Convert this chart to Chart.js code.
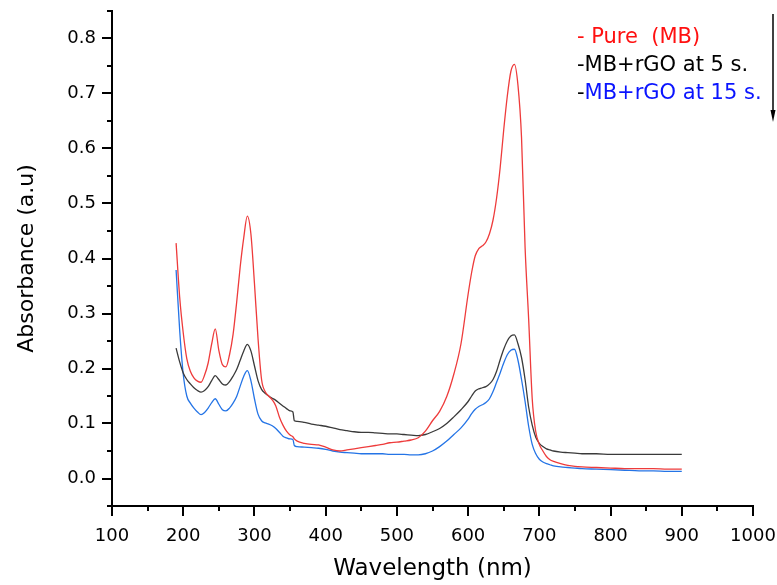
<!DOCTYPE html>
<html>
<head>
<meta charset="utf-8">
<script src="https://cdn.jsdelivr.net/npm/chart.js@4/dist/chart.umd.min.js"></script>
<style>
  html, body { margin: 0; padding: 0; background: #fff; }
</style>
</head>
<body>
<canvas id="myChart" width="777" height="585"></canvas>
<script>
// wavelength grid (nm)
const wavelengths = [
  190, 195, 200, 205, 210, 215, 220, 225, 230, 235, 240, 245, 250, 255, 260, 265, 270,
  275, 280, 285, 290, 295, 300, 305, 310, 315, 320, 325, 330, 335, 340, 345, 350,
  354, 356,
  360, 370, 380, 390, 400, 410, 420, 430, 440, 450, 460, 470, 480, 490, 500,
  510, 520, 530, 540, 550, 560, 570, 580, 590, 600,
  605, 610, 615, 620, 625, 630, 635, 640, 645, 650, 655, 660, 665, 670, 675,
  680, 685, 690, 695, 700, 705, 710, 715, 720,
  730, 740, 750, 760,
  780, 800, 820, 840, 860, 880, 900
];

const pureMB = [
  0.428, 0.33, 0.265, 0.218, 0.195, 0.183, 0.177, 0.175, 0.188, 0.21, 0.245, 0.272, 0.233, 0.207, 0.203, 0.225, 0.262,
  0.32, 0.385, 0.438, 0.477, 0.445, 0.355, 0.255, 0.18, 0.158, 0.15, 0.143, 0.132, 0.112, 0.097, 0.086, 0.079,
  0.076, 0.072,
  0.068, 0.064, 0.062, 0.061, 0.057, 0.052, 0.05, 0.052, 0.054, 0.056, 0.058, 0.06, 0.062, 0.065, 0.066,
  0.068, 0.07, 0.074, 0.086, 0.105, 0.122, 0.149, 0.19, 0.245, 0.335,
  0.375, 0.405, 0.418, 0.423, 0.43, 0.445, 0.47, 0.51, 0.565, 0.634, 0.695, 0.74, 0.753, 0.715, 0.62,
  0.42, 0.29, 0.145, 0.085, 0.062, 0.05, 0.04, 0.034, 0.031,
  0.027, 0.024, 0.022, 0.021,
  0.02, 0.019, 0.018, 0.018, 0.018, 0.017, 0.017
];

const rgo5s = [
  0.237, 0.212, 0.192, 0.18, 0.172, 0.165, 0.16, 0.157, 0.16, 0.167, 0.178, 0.187, 0.18, 0.172, 0.17, 0.176, 0.186,
  0.198, 0.215, 0.232, 0.244, 0.232, 0.205, 0.178, 0.162, 0.155, 0.15, 0.146, 0.142, 0.137, 0.132, 0.127, 0.123,
  0.121, 0.105,
  0.104, 0.102, 0.099, 0.097, 0.095, 0.092, 0.089, 0.087, 0.085, 0.084, 0.084, 0.083, 0.082, 0.081, 0.081,
  0.08, 0.079, 0.078, 0.08, 0.085, 0.091, 0.1, 0.112, 0.125, 0.14,
  0.15, 0.159, 0.163, 0.165, 0.167, 0.172, 0.18, 0.195, 0.216, 0.235, 0.25, 0.259, 0.261, 0.245, 0.22,
  0.18, 0.13, 0.097, 0.075, 0.064, 0.058, 0.054, 0.052, 0.05,
  0.048, 0.047, 0.046, 0.045,
  0.045, 0.044, 0.044, 0.044, 0.044, 0.044, 0.044
];

const rgo15s = [
  0.379, 0.27, 0.19, 0.15, 0.137, 0.128, 0.121, 0.116, 0.12, 0.128, 0.138, 0.145, 0.135, 0.125, 0.123, 0.128, 0.137,
  0.149, 0.168, 0.186, 0.196, 0.178, 0.145, 0.117, 0.105, 0.101, 0.099, 0.096, 0.091, 0.084, 0.077, 0.074, 0.072,
  0.071, 0.06,
  0.058, 0.057, 0.056, 0.055, 0.053, 0.05, 0.048, 0.047, 0.046, 0.045, 0.045, 0.045, 0.045, 0.044, 0.044,
  0.044, 0.043, 0.043, 0.045, 0.05, 0.058, 0.068, 0.08, 0.092, 0.108,
  0.118, 0.126, 0.131, 0.134, 0.138, 0.145, 0.158, 0.175, 0.192, 0.21, 0.225, 0.233, 0.235, 0.215, 0.18,
  0.14, 0.095, 0.062, 0.045, 0.035, 0.03, 0.027, 0.025, 0.023,
  0.021, 0.02, 0.019, 0.018,
  0.017, 0.016, 0.015, 0.014, 0.014, 0.013, 0.013
];

// labelled tick values on each axis
const xTickValues = [100, 200, 300, 400, 500, 600, 700, 800, 900, 1000];
const yTickValues = [0, 0.1, 0.2, 0.3, 0.4, 0.5, 0.6, 0.7, 0.8];

const seriesNames = ['- Pure  (MB)', '-MB+rGO at 5 s.', '-MB+rGO at 15 s.'];
const lineColors = ['#ee3b3b', '#3a3a3a', '#2474e6'];
const legendColors = ['#ff1010', '#000000', '#0a14ff'];

const FONT = "'DejaVu Sans', sans-serif";

const toPoints = (ys) => wavelengths.map((w, i) => ({ x: w, y: ys[i] }));

// major + minor tick marks, drawn outward from both axes
const axisTicks = {
  id: 'axisTicks',
  afterDraw(chart) {
    const { ctx, chartArea } = chart;
    const x = chart.scales.x;
    const y = chart.scales.y;
    ctx.save();
    ctx.strokeStyle = '#000';
    ctx.lineWidth = 2;
    for (let v = 100; v <= 1000; v += 50) {
      const px = Math.round(x.getPixelForValue(v));
      const len = v % 100 === 0 ? 10 : 5;
      ctx.beginPath();
      ctx.moveTo(px, chartArea.bottom);
      ctx.lineTo(px, chartArea.bottom + len);
      ctx.stroke();
    }
    for (let i = -1; i <= 17; i++) {
      const py = Math.round(y.getPixelForValue(i * 0.05));
      const len = i % 2 === 0 ? 10 : 5;
      ctx.beginPath();
      ctx.moveTo(chartArea.left, py);
      ctx.lineTo(chartArea.left - len, py);
      ctx.stroke();
    }
    ctx.restore();
  }
};

// text legend in the top right corner plus the downward arrow
const noteLegend = {
  id: 'noteLegend',
  afterDraw(chart) {
    const { ctx } = chart;
    ctx.save();
    ctx.font = '21px ' + FONT;
    ctx.textBaseline = 'alphabetic';
    ctx.textAlign = 'left';
    const x0 = 577;
    const rows = [43, 71, 99];
    ctx.fillStyle = legendColors[0];
    ctx.fillText(seriesNames[0], x0, rows[0]);
    ctx.fillStyle = legendColors[1];
    ctx.fillText(seriesNames[1], x0, rows[1]);
    ctx.fillStyle = '#000';
    ctx.fillText('-', x0, rows[2]);
    const dash = ctx.measureText('-').width;
    ctx.fillStyle = legendColors[2];
    ctx.fillText(seriesNames[2].slice(1), x0 + dash, rows[2]);

    // arrow
    ctx.strokeStyle = '#000';
    ctx.fillStyle = '#000';
    ctx.lineWidth = 1.5;
    ctx.beginPath();
    ctx.moveTo(773, 14);
    ctx.lineTo(773, 112);
    ctx.stroke();
    ctx.beginPath();
    ctx.moveTo(770.5, 110);
    ctx.lineTo(775.5, 110);
    ctx.lineTo(773, 122);
    ctx.closePath();
    ctx.fill();
    ctx.restore();
  }
};

const ctx = document.getElementById('myChart');

new Chart(ctx, {
  type: 'line',
  data: {
    datasets: [
      { label: seriesNames[0], data: toPoints(pureMB), borderColor: lineColors[0] },
      { label: seriesNames[1], data: toPoints(rgo5s), borderColor: lineColors[1] },
      { label: seriesNames[2], data: toPoints(rgo15s), borderColor: lineColors[2] }
    ]
  },
  options: {
    responsive: false,
    animation: false,
    events: [],
    layout: { padding: { left: 0, top: 11, right: 24, bottom: 0 } },
    elements: {
      point: { radius: 0 },
      line: { borderWidth: 1.3, cubicInterpolationMode: 'monotone', fill: false }
    },
    plugins: {
      legend: { display: false },
      tooltip: { enabled: false }
    },
    scales: {
      x: {
        type: 'linear',
        min: 100,
        max: 1000,
        grid: { display: true, drawOnChartArea: false, drawTicks: false },
        border: { display: true, color: '#000', width: 2 },
        ticks: {
          padding: 20,
          maxRotation: 0,
          autoSkip: false,
          color: '#000',
          font: { family: FONT, size: 18 },
          callback: (v) => String(v)
        },
        afterBuildTicks(scale) { scale.ticks = xTickValues.map(v => ({ value: v })); },
        title: {
          display: true,
          text: 'Wavelength (nm)',
          color: '#000',
          font: { family: FONT, size: 23 },
          padding: { top: 0, bottom: 2 }
        },
        afterFit(scale) {
          scale.height = 79;
          scale.paddingLeft = 0;
          scale.paddingRight = 0;
        }
      },
      y: {
        min: -0.05,
        max: 0.85,
        grid: { display: true, drawOnChartArea: false, drawTicks: false },
        border: { display: true, color: '#000', width: 2 },
        ticks: {
          padding: 16,
          autoSkip: false,
          color: '#000',
          font: { family: FONT, size: 18 },
          callback: (v) => v.toFixed(1)
        },
        afterBuildTicks(scale) { scale.ticks = yTickValues.map(v => ({ value: v })); },
        title: {
          display: true,
          text: 'Absorbance (a.u)',
          color: '#000',
          font: { family: FONT, size: 22 },
          padding: { top: 14, bottom: 0 }
        },
        afterFit(scale) {
          scale.width = 112;
          scale.paddingTop = 0;
          scale.paddingBottom = 0;
        }
      }
    }
  },
  plugins: [axisTicks, noteLegend]
});
</script>
</body>
</html>
